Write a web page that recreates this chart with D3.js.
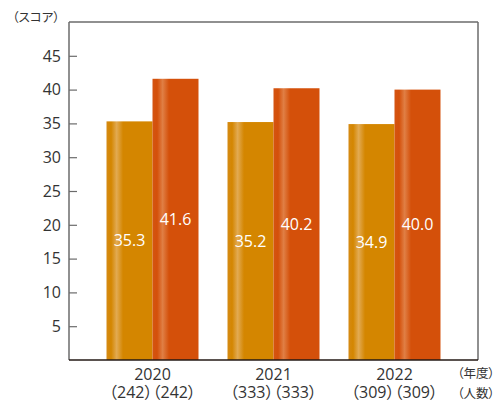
<!DOCTYPE html>
<html><head><meta charset="utf-8">
<script src="https://cdn.jsdelivr.net/npm/d3@7"></script>
<style>body{margin:0;background:#fff}svg{display:block}text{font-family:"Open Sans","Noto Sans CJK JP",sans-serif}.jp{font-feature-settings:"palt" 1}</style>
</head><body>
<script>
const years = ["2020","2021","2022"];
const counts = ["（242）（242）","（333）（333）","（309）（309）"];
const seriesA = [35.3, 35.2, 34.9];
const seriesB = [41.6, 40.2, 40.0];
const yTicks = [5,10,15,20,25,30,35,40,45];

const W=499,H=402;
const svg=d3.select("body").append("svg").attr("width",W).attr("height",H);
const x0=69,x1=478,yTop=22,yBot=360;
const y=d3.scaleLinear().domain([0,50]).range([yBot,yTop]);
const xb=d3.scaleBand().domain(years).range([x0,x1]).paddingInner(0.2397).paddingOuter(0.31);
const xs=d3.scaleBand().domain(["a","b"]).range([0,xb.bandwidth()]);

const defs=svg.append("defs");
function grad(id,base,light,edge){
  const g=defs.append("linearGradient").attr("id",id).attr("x1","0").attr("x2","1").attr("y1","0").attr("y2","0");
  [[0,edge],[0.1,base],[0.22,light],[0.36,base],[1,base]].forEach(([o,c])=>g.append("stop").attr("offset",o).attr("stop-color",c));
}
grad("gA","#d48600","#e2aa52","#d58a14");
grad("gB","#d4500a","#e07f45","#d45412");

// frame
svg.append("line").attr("x1",x0).attr("x2",x1).attr("y1",yTop).attr("y2",yTop).attr("stroke","#6b6b6b").attr("stroke-width",1.5);
svg.append("line").attr("x1",x1).attr("x2",x1).attr("y1",yTop).attr("y2",yBot).attr("stroke","#6b6b6b").attr("stroke-width",1.5);

const data=years.map((yr,i)=>({yr,a:seriesA[i],b:seriesB[i]}));
const g=svg.append("g");
data.forEach(d=>{
  [["a","gA"],["b","gB"]].forEach(([k,gid])=>{
    const bx=xb(d.yr)+xs(k), bw=xs.bandwidth();
    g.append("rect").attr("x",bx).attr("width",bw).attr("y",y(d[k])).attr("height",yBot-y(d[k])).attr("fill",`url(#${gid})`);
    g.append("text").attr("x",bx+bw/2).attr("y",y(d[k]/2)).attr("dy","0.35em").attr("text-anchor","middle")
      .attr("fill","#fff").attr("font-size",16).text(d[k].toFixed(1));
  });
});

// y axis
svg.append("line").attr("x1",x0).attr("x2",x0).attr("y1",yTop).attr("y2",yBot).attr("stroke","#6b6b6b").attr("stroke-width",1.5);
const yAxis=d3.axisRight(y).tickValues(yTicks).tickSize(8).tickFormat("");
const ya=svg.append("g").attr("transform",`translate(${x0},0)`).call(yAxis);
ya.select(".domain").remove();
ya.selectAll(".tick line").attr("stroke","#6b6b6b").attr("stroke-width",1.2);
svg.append("g").selectAll("text").data(yTicks).join("text")
  .attr("x",61).attr("y",d=>y(d)).attr("dy","0.36em").attr("text-anchor","end")
  .attr("font-size",16).attr("fill","#333").text(d=>d);

// x axis
svg.append("line").attr("x1",x0).attr("x2",x1).attr("y1",yBot).attr("y2",yBot).attr("stroke","#231815").attr("stroke-width",1.5);
svg.append("g").selectAll("text").data(years).join("text")
  .attr("x",d=>xb(d)+xb.bandwidth()/2).attr("y",379.5).attr("text-anchor","middle")
  .attr("font-size",16).attr("fill","#333").text(d=>d);
svg.append("g").selectAll("text").data(counts).join("text").attr("class","jp")
  .attr("x",(d,i)=>xb(years[i])+xb.bandwidth()/2).attr("y",398).attr("text-anchor","middle")
  .attr("font-size",16).attr("fill","#333").text(d=>d);

svg.append("text").attr("class","jp").attr("x",476).attr("y",378).attr("text-anchor","middle").attr("font-size",12.5).attr("fill","#333").text("（年度）");
svg.append("text").attr("class","jp").attr("x",476).attr("y",398).attr("text-anchor","middle").attr("font-size",12.5).attr("fill","#333").text("（人数）");
svg.append("text").attr("class","jp").attr("x",36).attr("y",22).attr("text-anchor","middle").attr("font-size",12.5).attr("fill","#333").text("（スコア）");
</script>
</body></html>
